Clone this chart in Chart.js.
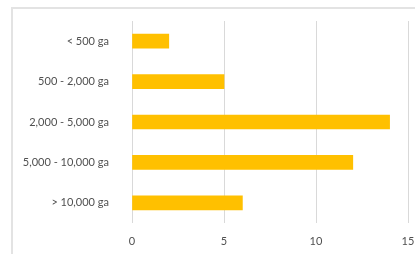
<!DOCTYPE html>
<html>
<head>
<meta charset="utf-8">
<script src="https://cdn.jsdelivr.net/npm/chart.js@4/dist/chart.umd.min.js"></script>
<style>
  html, body { margin: 0; padding: 0; background: #fff; }
  #wrap { position: relative; width: 415px; height: 254px; overflow: hidden; }
  #frame { position: absolute; left: 11px; top: 7px; width: 420px; height: 260px;
           border-left: 2px solid #e3e3e3; border-top: 2px solid #e3e3e3; }
  canvas { position: absolute; left: 0; top: 0; }
</style>
</head>
<body>
<div id="wrap">
  <div id="frame"></div>
  <canvas id="grafica-tamano" width="415" height="254"></canvas>
</div>
<script>
// categorias y valores
var categorias = ['< 500 ga', '500 - 2,000 ga', '2,000 - 5,000 ga', '5,000 - 10,000 ga', '> 10,000 ga'];
var valores    = [2, 5, 14, 12, 6];
var ticksX     = [0, 5, 10, 15];

var barData = {
    labels: categorias,
    datasets: [{
        data: valores,
        backgroundColor: '#FFC000',
        borderWidth: 0,
        barThickness: 14
    }]
};

var barOptions = {
    indexAxis: 'y',
    responsive: false,
    animation: false,
    layout: { padding: { left: 0, right: 7, top: 21, bottom: 0 } },
    plugins: { legend: { display: false }, tooltip: { enabled: false } },
    scales: {
        x: {
            min: 0,
            max: 15,
            afterBuildTicks: function (scale) {
                scale.ticks = ticksX.map(function (v) { return { value: v }; });
            },
            afterFit: function (scale) {
                scale.height = 31;
                scale.paddingRight = 0;
                scale.paddingLeft = 0;
            },
            grid: { color: '#d9d9d9', lineWidth: 1, drawTicks: false },
            border: { display: false },
            ticks: { padding: 12, color: '#505050', font: { family: 'Lato', size: 11 } }
        },
        y: {
            afterFit: function (scale) {
                scale.width = 132;
                scale.paddingTop = 0;
                scale.paddingBottom = 0;
            },
            grid: { display: false },
            border: { display: false },
            ticks: { padding: 15, color: '#505050', font: { family: 'Lato', size: 11 } }
        }
    }
};

var ctx = document.getElementById('grafica-tamano').getContext('2d');
new Chart(ctx, { type: 'bar', data: barData, options: barOptions });
</script>
</body>
</html>
